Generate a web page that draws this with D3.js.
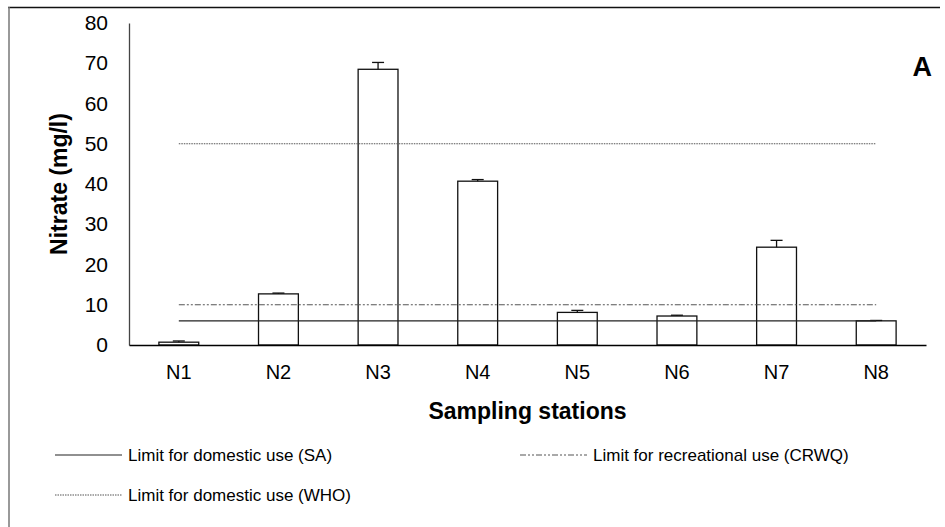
<!DOCTYPE html>
<html lang="en">
<head>
	<meta charset="UTF-8"/>
	<title>Nitrate by sampling station</title>
	<script src="https://d3js.org/d3.v7.min.js"></script>
	<style>
		body { margin: 0; background: #fff; }
		svg { display: block; font-family: "Liberation Sans", Arial, sans-serif; }
	</style>
</head>
<body>
	<script>
		// values
		var stations = ["N1", "N2", "N3", "N4", "N5", "N6", "N7", "N8"];
		var nitrate = [0.7, 12.7, 68.5, 40.7, 8.1, 7.2, 24.3, 6.0];
		var nitrateErr = [0.3, 0.2, 1.7, 0.4, 0.5, 0.2, 1.7, 0.1];
		var yTicks = [0, 10, 20, 30, 40, 50, 60, 70, 80];
		var limitNames = ["Limit for domestic use (SA)", "Limit for recreational use (CRWQ)", "Limit for domestic use (WHO)"];
		var limitValues = [6, 10, 50];

		var w = 945;
		var h = 527;
		// plot area ("top" is a reserved window property, so use other names)
		var plotL = 129, plotR = 926, plotT = 23, plotB = 345;

		var svg = d3.select("body")
			.append("svg")
			.attr("width", w)
			.attr("height", h);

		// frame (only top and left visible in the figure)
		svg.append("line").attr("x1", 8).attr("x2", 940).attr("y1", 7.5).attr("y2", 7.5)
			.attr("stroke", "#111").attr("stroke-width", 1.5);
		svg.append("line").attr("x1", 9).attr("x2", 9).attr("y1", 7).attr("y2", 527)
			.attr("stroke", "#777").attr("stroke-width", 1.5);

		var xScale = d3.scaleBand()
			.domain(stations)
			.range([plotL, plotR])
			.paddingInner(0.6)
			.paddingOuter(0.3);

		var yScale = d3.scaleLinear()
			.domain([0, 80])
			.range([plotB, plotT]);

		// y axis
		var yAxis = svg.append("g")
			.attr("transform", "translate(" + plotL + ",0)")
			.call(d3.axisLeft(yScale).tickValues(yTicks).tickSize(0).tickPadding(21));
		yAxis.select(".domain").attr("stroke", "#444").attr("stroke-width", 1.3);
		yAxis.selectAll("text").attr("font-size", 21).attr("fill", "#000")
			.attr("font-family", "Liberation Sans, Arial, sans-serif");

		var lineStyles = [
			{ dash: null, color: "#222" },
			{ dash: "6,2,2,2,2,2", color: "#555" },
			{ dash: "1.5,1", color: "#555" }
		];

		// bars
		svg.selectAll("rect.bar")
			.data(nitrate)
			.enter()
			.append("rect")
			.attr("class", "bar")
			.attr("x", function(d, i) { return xScale(stations[i]); })
			.attr("y", function(d) { return yScale(d); })
			.attr("width", xScale.bandwidth())
			.attr("height", function(d) { return yScale(0) - yScale(d); })
			.attr("fill", "#fff")
			.attr("stroke", "#111")
			.attr("stroke-width", 1.3);

		// error bars (upper only)
		var errG = svg.append("g").attr("stroke", "#111").attr("stroke-width", 1.3);
		nitrate.forEach(function(d, i) {
			var cx = xScale(stations[i]) + xScale.bandwidth() / 2;
			var yTop = yScale(d + nitrateErr[i]);
			errG.append("line").attr("x1", cx).attr("x2", cx)
				.attr("y1", yScale(d)).attr("y2", yTop);
			errG.append("line").attr("x1", cx - 6).attr("x2", cx + 6)
				.attr("y1", yTop).attr("y2", yTop);
		});

		// limit lines from N1 centre to N8 centre
		var x0 = xScale(stations[0]) + xScale.bandwidth() / 2;
		var x1 = xScale(stations[stations.length - 1]) + xScale.bandwidth() / 2;
		limitValues.forEach(function(v, i) {
			svg.append("line")
				.attr("x1", x0).attr("x2", x1)
				.attr("y1", yScale(v)).attr("y2", yScale(v))
				.attr("stroke", lineStyles[i].color)
				.attr("stroke-width", 1.2)
				.attr("stroke-dasharray", lineStyles[i].dash);
		});

		// x axis
		var xAxis = svg.append("g")
			.attr("transform", "translate(0," + plotB + ")")
			.call(d3.axisBottom(xScale).tickSize(0).tickPadding(20).tickSizeOuter(0));
		xAxis.select(".domain").attr("stroke", "#000").attr("stroke-width", 1.5);
		xAxis.selectAll("text").attr("font-size", 20).attr("fill", "#000")
			.attr("font-family", "Liberation Sans, Arial, sans-serif");

		// axis titles
		svg.append("text")
			.attr("x", (plotL + plotR) / 2)
			.attr("y", 419)
			.attr("text-anchor", "middle")
			.attr("font-size", 23)
			.attr("font-weight", "bold")
			.text("Sampling stations");

		svg.append("text")
			.attr("transform", "translate(67,184) rotate(-90)")
			.attr("text-anchor", "middle")
			.attr("font-size", 23)
			.attr("font-weight", "bold")
			.text("Nitrate (mg/l)");

		svg.append("text")
			.attr("x", 932)
			.attr("y", 76)
			.attr("text-anchor", "end")
			.attr("font-size", 27)
			.attr("font-weight", "bold")
			.text("A");

		// legend
		var legendPos = [[55, 455], [520, 455], [55, 495]];
		limitNames.forEach(function(name, i) {
			var g = svg.append("g")
				.attr("transform", "translate(" + legendPos[i][0] + "," + legendPos[i][1] + ")");
			g.append("line")
				.attr("x1", 0).attr("x2", 67)
				.attr("y1", 0).attr("y2", 0)
				.attr("stroke", lineStyles[i].color)
				.attr("stroke-width", 1.2)
				.attr("stroke-dasharray", lineStyles[i].dash);
			g.append("text")
				.attr("x", 73)
				.attr("y", 6)
				.attr("font-size", 17)
				.text(name);
		});
	</script>
</body>
</html>
